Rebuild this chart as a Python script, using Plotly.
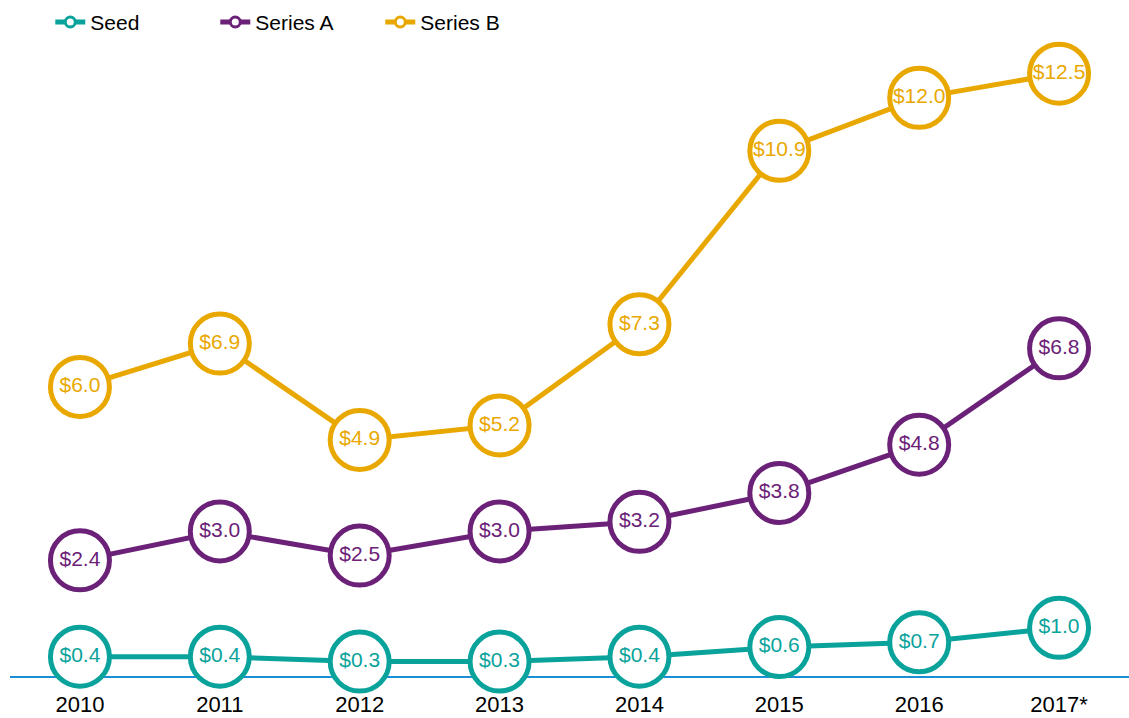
import plotly.graph_objects as go

years = ["2010", "2011", "2012", "2013", "2014", "2015", "2016", "2017*"]
seed = [0.4, 0.4, 0.3, 0.3, 0.4, 0.6, 0.7, 1.0]
series_a = [2.4, 3.0, 2.5, 3.0, 3.2, 3.8, 4.8, 6.8]
series_b = [6.0, 6.9, 4.9, 5.2, 7.3, 10.9, 12.0, 12.5]

series = [
    ("Seed", seed, "#0aa39c"),
    ("Series A", series_a, "#6b2177"),
    ("Series B", series_b, "#e9a800"),
]

FONT = "Liberation Sans, Arial, sans-serif"

fig = go.Figure()

for name, values, color in series:
    fig.add_trace(go.Scatter(
        x=years, y=values, name=name, showlegend=False,
        mode="lines+markers+text",
        line=dict(color=color, width=5),
        marker=dict(size=59, color="white", line=dict(color=color, width=5)),
        text=[f"${v:.1f}" for v in values],
        textposition="middle center",
        textfont=dict(color=color, size=21, family=FONT),
        cliponaxis=False,
        hoverinfo="skip",
    ))

# compact legend entries
for name, values, color in series:
    fig.add_trace(go.Scatter(
        x=[None], y=[None], name=name, mode="lines+markers",
        line=dict(color=color, width=5),
        marker=dict(size=10, color="white", line=dict(color=color, width=3)),
    ))

fig.update_layout(
    width=1129, height=718,
    margin=dict(l=10, r=0, t=40, b=42),
    paper_bgcolor="white", plot_bgcolor="white",
    font=dict(family=FONT, color="black", size=21),
    legend=dict(
        orientation="h", x=0.036, y=1.06, xanchor="left", yanchor="top",
        font=dict(size=21, family=FONT, color="black"),
        entrywidth=120, entrywidthmode="pixels",
        bgcolor="rgba(0,0,0,0)",
    ),
    xaxis=dict(
        type="category", range=[-0.5, 7.5],
        showgrid=False, zeroline=False,
        showline=True, linecolor="#1a8fd6", linewidth=2,
        ticks="", ticklabelstandoff=8,
        tickfont=dict(size=22, family=FONT, color="black"),
        layer="below traces", fixedrange=True,
    ),
    yaxis=dict(
        range=[0, 13.2], visible=False, showgrid=False, zeroline=False,
        fixedrange=True,
    ),
)

fig.write_html("out.html")
